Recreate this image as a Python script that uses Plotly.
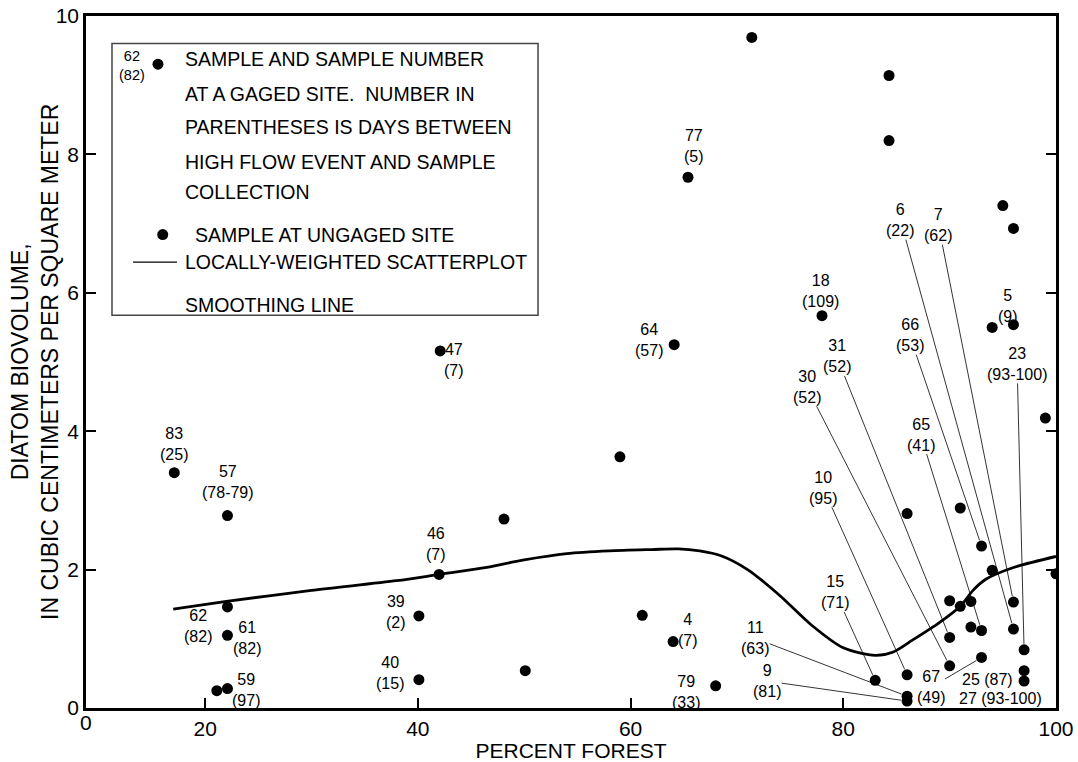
import plotly.graph_objects as go

# Samples at gaged sites: sample number, days since high-flow event
gaged_sample = ["77", "18", "64", "47", "5", "83", "57", "46", "62", "61",
                "59", "39", "40", "4", "79", "66", "7", "6", "31", "65",
                "23", "67", "30", "25", "27", "10", "15", "11", "9"]
gaged_days = ["5", "109", "57", "7", "9", "25", "78-79", "7", "82", "82",
              "97", "2", "15", "7", "33", "53", "62", "22", "52", "41",
              "93-100", "49", "52", "87", "93-100", "95", "71", "63", "81"]
gaged_forest = [65.4, 78.0, 64.1, 42.1, 96.0, 17.1, 22.1, 42.0, 22.1, 22.1,
                22.1, 40.1, 40.1, 64.0, 68.0, 93.0, 96.0, 96.0, 90.0, 93.0,
                97.0, 93.0, 90.0, 97.0, 97.0, 86.0, 83.0, 86.0, 86.0]
gaged_biovolume = [7.67, 5.67, 5.25, 5.16, 5.54, 3.40, 2.78, 1.93, 1.46, 1.05,
                   0.28, 1.33, 0.41, 0.96, 0.32, 2.34, 1.53, 1.14, 1.02, 1.12,
                   0.84, 0.73, 0.61, 0.54, 0.39, 0.48, 0.40, 0.17, 0.10]

# Samples at ungaged sites
ungaged_forest = [71.4, 84.3, 84.3, 95.0, 96.0, 94.0, 99.0, 59.0, 48.1, 86.0,
                  91.0, 100.0, 94.0, 90.0, 92.0, 91.0, 92.0, 61.1, 50.1, 21.1]
ungaged_biovolume = [9.69, 9.14, 8.20, 7.26, 6.93, 5.50, 4.19, 3.63, 2.73, 2.81,
                     2.89, 1.94, 1.99, 1.55, 1.54, 1.47, 1.17, 1.34, 0.54, 0.25]

# Locally-weighted scatterplot smoothing line
loess_forest = [17, 22, 30, 38, 42, 46, 50, 54, 58, 62, 64.5, 66.5, 68.5, 71,
                74, 77, 80, 83, 84.7, 86.5, 89, 91, 92.2, 93.4, 96, 100]
loess_biovolume = [1.43, 1.54, 1.70, 1.84, 1.93, 2.02, 2.14, 2.23, 2.27, 2.29,
                   2.30, 2.27, 2.20, 2.00, 1.63, 1.20, 0.87, 0.76, 0.81, 0.98,
                   1.23, 1.47, 1.70, 1.86, 2.03, 2.19]

x_ticks = [20, 40, 60, 80, 100]
y_ticks = [0, 2, 4, 6, 8, 10]

FONT = "Liberation Sans, Arial, Helvetica, sans-serif"
LABEL_SIZE = 16

# Label placement (pixel offsets from the point): leader-line labels and plain labels
leader_offsets = {
    "6": (-113, -409), "7": (-75, -377), "66": (-72, -211), "31": (-113, -281),
    "30": (-143, -279), "23": (-7, -286), "65": (-61, -196), "10": (-84, -187),
    "15": (-40, -88), "11": (-152, -58), "9": (-140, -20), "67": (-51, 30),
}
plain_offsets = {
    "77": (6, -31), "18": (-2, -25), "5": (-5, -19), "64": (-25, -5),
    "47": (14, 9), "46": (-3, -30), "39": (-23, -4), "40": (-29, -7),
    "83": (0, -29), "57": (1, -34), "62": (-29, 19), "61": (20, 3),
    "59": (19, 1), "4": (15, -12), "79": (-30, 6), "25": (-37, 9),
    "27": (-24, 17),
}
single_line = {"25", "27"}

fig = go.Figure()

fig.add_trace(go.Scatter(
    x=loess_forest, y=loess_biovolume, mode="lines",
    line=dict(color="black", width=2.8, shape="spline", smoothing=0.8),
    showlegend=False, hoverinfo="skip"))

fig.add_trace(go.Scatter(
    x=ungaged_forest, y=ungaged_biovolume, mode="markers",
    marker=dict(color="black", size=11), showlegend=False))

fig.add_trace(go.Scatter(
    x=gaged_forest, y=gaged_biovolume, mode="markers",
    marker=dict(color="black", size=11), showlegend=False))

annotations = []
for num, d, xv, yv in zip(gaged_sample, gaged_days, gaged_forest, gaged_biovolume):
    text = f"{num} ({d})" if num in single_line else f"{num}<br>({d})"
    if num in leader_offsets:
        ax, ay = leader_offsets[num]
        annotations.append(dict(
            x=xv, y=yv, xref="x", yref="y", text=text, showarrow=True,
            ax=ax, ay=ay, arrowhead=0, arrowwidth=0.8, arrowcolor="black",
            standoff=6, font=dict(family=FONT, size=LABEL_SIZE, color="black"),
            borderpad=0))
    else:
        dx, dy = plain_offsets[num]
        annotations.append(dict(
            x=xv, y=yv, xref="x", yref="y", text=text, showarrow=False,
            xshift=dx, yshift=-dy,
            font=dict(family=FONT, size=LABEL_SIZE, color="black")))

# Corner label for the origin of the forest axis
annotations.append(dict(x=0, y=0, xref="paper", yref="paper", text="0",
                        showarrow=False, xanchor="center", yanchor="top",
                        yshift=-1,
                        font=dict(family=FONT, size=21, color="black")))

# Vertical axis title (two lines, rotated)
annotations.append(dict(
    x=-0.0526, y=0.5, xref="paper", yref="paper",
    text="DIATOM BIOVOLUME,<br>IN CUBIC CENTIMETERS PER SQUARE METER",
    textangle=-90, showarrow=False, xanchor="center", yanchor="middle",
    font=dict(family=FONT, size=23, color="black")))

# Explanation box
LEG = 19.5
legend_lines = [
    ("SAMPLE AND SAMPLE NUMBER", 0.0997, 0.9376),
    ("AT A GAGED SITE.  NUMBER IN", 0.0997, 0.8880),
    ("PARENTHESES IS DAYS BETWEEN", 0.0997, 0.8389),
    ("HIGH FLOW EVENT AND SAMPLE", 0.0997, 0.7885),
    ("COLLECTION", 0.0997, 0.7452),
    ("SAMPLE AT UNGAGED SITE", 0.110, 0.6842),
    ("LOCALLY-WEIGHTED SCATTERPLOT", 0.0997, 0.6443),
    ("SMOOTHING LINE", 0.0997, 0.5818),
]
for txt, px, py in legend_lines:
    annotations.append(dict(x=px, y=py, xref="paper", yref="paper", text=txt,
                            showarrow=False, xanchor="left", yanchor="middle",
                            font=dict(family=FONT, size=LEG, color="black")))
annotations.append(dict(x=0.0475, y=0.9287, xref="paper", yref="paper",
                        text="62<br>(82)", showarrow=False,
                        xanchor="center", yanchor="middle",
                        font=dict(family=FONT, size=14.5, color="black")))

shapes = [
    dict(type="rect", xref="paper", yref="paper", x0=0.0268, x1=0.466,
         y0=0.5674, y1=0.9601, line=dict(color="#444444", width=1.5),
         fillcolor="white", layer="below"),
    dict(type="circle", xref="paper", yref="paper", xsizemode="pixel",
         ysizemode="pixel", xanchor=0.0742, yanchor=0.9304,
         x0=-5.5, x1=5.5, y0=-5.5, y1=5.5, fillcolor="black",
         line=dict(color="black", width=0)),
    dict(type="circle", xref="paper", yref="paper", xsizemode="pixel",
         ysizemode="pixel", xanchor=0.0791, yanchor=0.6842,
         x0=-5.5, x1=5.5, y0=-5.5, y1=5.5, fillcolor="black",
         line=dict(color="black", width=0)),
    dict(type="line", xref="paper", yref="paper", x0=0.0485, x1=0.0938,
         y0=0.6443, y1=0.6443, line=dict(color="black", width=1.2)),
]

fig.update_layout(
    width=1078, height=762,
    margin=dict(l=86, r=22, t=16, b=54),
    paper_bgcolor="white", plot_bgcolor="white",
    font=dict(family=FONT, color="black"),
    showlegend=False,
    annotations=annotations,
    shapes=shapes,
    xaxis=dict(
        range=[8.8, 100], tickvals=x_ticks, ticktext=[str(t) for t in x_ticks],
        ticks="inside", ticklen=10, tickwidth=2, tickcolor="black",
        showline=True, linecolor="black", linewidth=2.5, mirror=True,
        showgrid=False, zeroline=False, automargin=False,
        tickfont=dict(family=FONT, size=21, color="black"),
        title=dict(text="PERCENT FOREST", standoff=5,
                   font=dict(family=FONT, size=21, color="black")),
    ),
    yaxis=dict(
        range=[0, 10], tickvals=y_ticks, ticktext=[str(t) for t in y_ticks],
        ticks="inside", ticklen=10, tickwidth=2, tickcolor="black",
        showline=True, linecolor="black", linewidth=2.5, mirror="ticks",
        showgrid=False, zeroline=False, automargin=False,
        tickfont=dict(family=FONT, size=21, color="black"),
    ),
)

fig.write_html("out.html")
